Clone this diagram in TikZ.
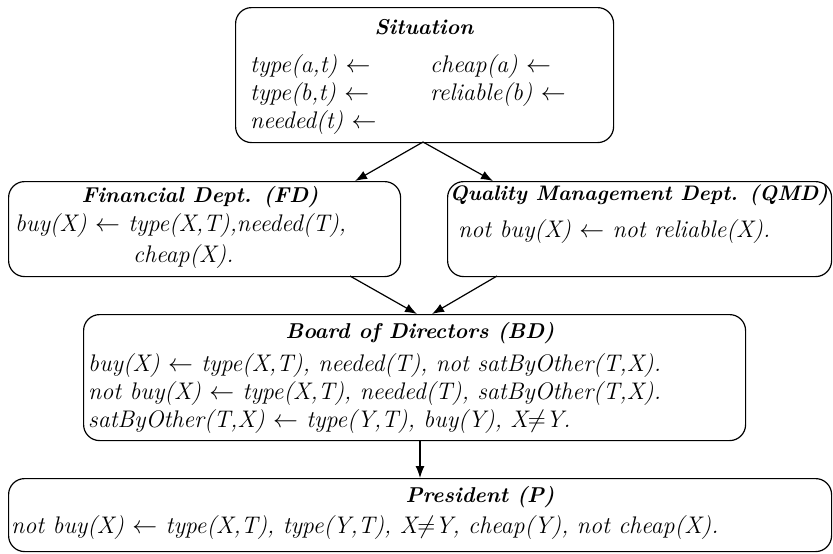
\documentclass[tikz,border=0pt]{standalone}
\usetikzlibrary{arrows.meta,calc}
\begin{document}
\begin{tikzpicture}[x=1pt,y=-1pt,
  box/.style={draw, line width=1.2pt, rounded corners=16pt, anchor=north west, inner sep=0pt},
  ttl/.style={font=\bfseries\itshape\fontsize{21.5}{25}\selectfont, inner sep=0pt},
  txt/.style={font=\itshape\fontsize{24}{28}\selectfont, inner sep=0pt, anchor=west},
  arr/.style={-{Latex[length=12pt,width=9pt]}, line width=1.2pt}]
\useasboundingbox (0,0) rectangle (833,554);

% boxes
\node[box, minimum width=378pt, minimum height=135pt] (sit) at (235,7) {};
\node[box, minimum width=392pt, minimum height=95pt] (fd) at (8,181) {};
\node[box, minimum width=384pt, minimum height=95pt] (qmd) at (447,181) {};
\node[box, minimum width=662pt, minimum height=126pt] (bd) at (83,314) {};
\node[box, minimum width=823pt, minimum height=73pt] (pr) at (8,478) {};

% Situation
\node[ttl] (sitT) at (424,27) {Situation};
\node[txt] (s1) at (250,67) {type(a,t) $\leftarrow$};
\node[txt] (s2) at (250,95) {type(b,t) $\leftarrow$};
\node[txt] (s3) at (250,123) {needed(t) $\leftarrow$};
\node[txt] (s4) at (430,67) {cheap(a) $\leftarrow$};
\node[txt] (s5) at (430,95) {reliable(b) $\leftarrow$};

% FD
\node[ttl] (fdT) at (200,197) {Financial Dept. (FD)};
\node[txt] (f1) at (15,226) {buy(X) $\leftarrow$ type(X,T),needed(T),};
\node[txt] (f2) at (133,257) {cheap(X).};

% QMD
\node[ttl, font=\bfseries\itshape\fontsize{21}{25}\selectfont] (qT) at (639,195) {Quality Management Dept. (QMD)};
\node[txt] (q1) at (458,232) {not buy(X) $\leftarrow$ not reliable(X).};

% BD
\node[ttl] (bT) at (420,333) {Board of Directors (BD)};
\node[txt] (b1) at (88,366) {buy(X) $\leftarrow$ type(X,T), needed(T), not satByOther(T,X).};
\node[txt] (b2) at (88,394) {not buy(X) $\leftarrow$ type(X,T), needed(T), satByOther(T,X).};
\node[txt] (b3) at (88,422) {satByOther(T,X) $\leftarrow$ type(Y,T), buy(Y), X$\neq$Y.};

% President
\node[ttl] (pT) at (480,497) {President (P)};
\node[txt] (p1) at (11,528) {not buy(X) $\leftarrow$ type(X,T), type(Y,T), X$\neq$Y, cheap(Y), not cheap(X).};

% connector end points
\coordinate (sa) at (423,142);
\coordinate (fdin) at (355,181);
\coordinate (qmin) at (493,181);
\coordinate (fdout) at (350,276);
\coordinate (qmout) at (497,276);
\coordinate (bdinl) at (417,314);
\coordinate (bdinr) at (432,314);
\coordinate (bdout) at (420,440);
\coordinate (pin) at (420,478);

\draw[arr] (sa) -- (fdin);
\draw[arr] (sa) -- (qmin);
\draw[arr] (fdout) -- (bdinl);
\draw[arr] (qmout) -- (bdinr);
\draw[arr] (bdout) -- (pin);
\end{tikzpicture}
\end{document}
